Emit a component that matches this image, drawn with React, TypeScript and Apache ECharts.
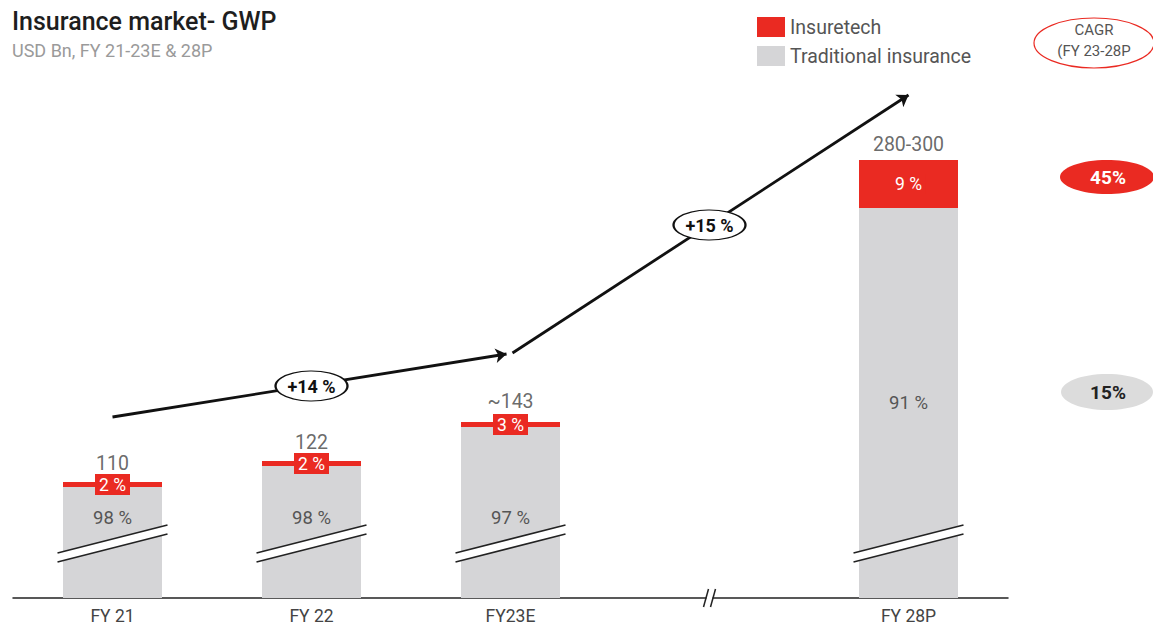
import React, { useEffect, useRef } from "react";
import * as echarts from "echarts";

const categories = ["FY 21", "FY 22", "FY23E", "", "FY 28P"];
// bar heights in the chart's drawn (broken-axis) units
const traditionalHeight = [111, 132, 171, null, 390];
const insuretechHeight = [5, 5, 5, null, 48];
const traditionalShare = ["98 %", "98 %", "97 %", "", "91 %"];
const insuretechShare = ["2 %", "2 %", "3 %", "", "9 %"];
const totalLabels = ["110", "122", "~143", "", "280-300"];
const totalLabelGap = [8, 8, 10, 0, 5];
const breakBars = [0, 1, 2, 4];
const breakLevel = 55;
const axisBreakIndex = 3;
const growthLabels = ["+14 %", "+15 %"];
const growthPoints = [[1.0, 212], [3.0, 373]];
const arrowPaths = [
  [[0, 181], [1.98, 244]],
  [[2.01, 245], [4.0, 503]],
];
const cagrTitle = ["CAGR", "(FY 23-28P"];
const cagrLabels = ["45%", "15%"];

const RED = "#ea2a22";
const GRAY = "#d5d5d7";
const FONT = "Roboto, 'Noto Sans', sans-serif";

export default function App() {
  const ref = useRef<HTMLDivElement>(null);
  useEffect(() => {
    if (!ref.current) return;
    const chart = echarts.init(ref.current, null, { renderer: "svg" });
    const tops = traditionalHeight.map((v, i) =>
      v == null ? null : v + (insuretechHeight[i] as number)
    );
    const option: any = {
      animation: false,
      textStyle: { fontFamily: FONT },
      title: {
        text: "Insurance market- GWP",
        subtext: "USD Bn, FY 21-23E & 28P",
        left: 7,
        top: 4,
        itemGap: 7,
        textStyle: { fontSize: 25, fontWeight: 500, color: "#1e1e1e", fontFamily: FONT },
        subtextStyle: { fontSize: 18, color: "#9a9a9a", fontFamily: FONT },
      },
      legend: {
        data: ["Insuretech", "Traditional insurance"],
        orient: "vertical",
        left: 752,
        top: 12,
        itemWidth: 28,
        itemHeight: 20,
        itemGap: 9,
        icon: "rect",
        textStyle: { fontSize: 19.5, color: "#555", fontFamily: FONT },
      },
      grid: { left: 13, right: 145, top: 58, bottom: 27 },
      xAxis: [
        {
          type: "category",
          data: categories,
          axisLine: { lineStyle: { color: "#222", width: 1.5 } },
          axisTick: { show: false },
          axisLabel: { fontSize: 17.5, lineHeight: 17, color: "#444", margin: 9, fontFamily: FONT },
        },
        { type: "value", min: -0.5, max: 4.5, show: false },
      ],
      yAxis: { type: "value", min: 0, max: 540, show: false },
      series: [
        {
          name: "Traditional insurance",
          type: "bar",
          stack: "total",
          barWidth: 99,
          itemStyle: { color: GRAY },
          data: traditionalHeight.map((v, i) => ({
            value: v == null ? "-" : v,
            label: {
              show: v != null,
              formatter: traditionalShare[i],
              position: i === 4 ? "inside" : "insideBottom",
              distance: i === 4 ? 5 : 71,
              fontSize: 18.5,
              color: "#555",
            },
          })),
        },
        {
          name: "Insuretech",
          type: "bar",
          stack: "total",
          barWidth: 99,
          itemStyle: { color: RED },
          data: insuretechHeight.map((v, i) => ({
            value: v == null ? "-" : v,
            label: {
              show: v != null,
              formatter: insuretechShare[i],
              position: "inside",
              fontSize: 17.5,
              color: "#fff",
              backgroundColor: RED,
              padding: [2, 4, 1, 4],
            },
          })),
        },
        {
          type: "scatter",
          symbolSize: 1,
          itemStyle: { color: "rgba(0,0,0,0)" },
          silent: true,
          z: 5,
          data: tops
            .map((t, i) => (t == null ? null : { value: [i, t], label: { show: true, position: "top", distance: totalLabelGap[i], formatter: totalLabels[i], fontSize: 19.5, color: "#444" } }))
            .filter((d) => d != null),
        },
        {
          type: "custom",
          z: 6,
          data: breakBars.map((i) => [i, breakLevel]),
          renderItem: (params: any, api: any) => {
            const p = api.coord([api.value(0), api.value(1)]);
            const cx = p[0];
            const cy = p[1];
            return {
              type: "group",
              children: [
                { type: "polygon", shape: { points: [[cx - 55, cy + 10], [cx + 55, cy - 18], [cx + 55, cy - 9], [cx - 55, cy + 19]] }, style: { fill: "#fff" } },
                { type: "line", shape: { x1: cx - 55, y1: cy + 10, x2: cx + 55, y2: cy - 18 }, style: { stroke: "#222", lineWidth: 1.5 } },
                { type: "line", shape: { x1: cx - 55, y1: cy + 19, x2: cx + 55, y2: cy - 9 }, style: { stroke: "#222", lineWidth: 1.5 } },
              ],
            };
          },
        },
        {
          type: "custom",
          z: 6,
          data: [[axisBreakIndex, 0]],
          renderItem: (params: any, api: any) => {
            const p = api.coord([api.value(0), api.value(1)]);
            const cx = p[0];
            const cy = p[1];
            return {
              type: "group",
              children: [
                { type: "rect", shape: { x: cx - 3, y: cy - 2, width: 6, height: 4 }, style: { fill: "#fff" } },
                { type: "line", shape: { x1: cx - 6, y1: cy + 9, x2: cx - 1, y2: cy - 9 }, style: { stroke: "#222", lineWidth: 1.5 } },
                { type: "line", shape: { x1: cx + 1, y1: cy + 9, x2: cx + 6, y2: cy - 9 }, style: { stroke: "#222", lineWidth: 1.5 } },
              ],
            };
          },
        },
        {
          type: "lines",
          coordinateSystem: "cartesian2d",
          xAxisIndex: 1,
          z: 2,
          symbol: ["none", "arrow"],
          symbolSize: 11,
          lineStyle: { color: "#111", width: 2.8, opacity: 1 },
          data: arrowPaths.map((c) => ({ coords: c })),
        },
        {
          type: "scatter",
          xAxisIndex: 1,
          z: 20,
          symbol: "circle",
          symbolSize: [72, 30],
          itemStyle: { color: "#ffffff", opacity: 1, borderColor: "#111", borderWidth: 1.5 },
          label: { show: true, position: "inside", fontSize: 18, fontWeight: "bold", color: "#111" },
          data: growthPoints.map((p, i) => ({ value: p, label: { formatter: growthLabels[i] } })),
        },
      ],
      graphic: [
        { type: "ellipse", shape: { cx: 1094, cy: 43, rx: 60, ry: 25 }, style: { fill: "#fff", stroke: RED, lineWidth: 1.2 } },
        { type: "text", x: 1094, y: 30, style: { text: cagrTitle[0], fill: "#555", fontSize: 15, fontFamily: FONT, align: "center", verticalAlign: "middle" } },
        { type: "text", x: 1094, y: 51, style: { text: cagrTitle[1], fill: "#555", fontSize: 15, fontFamily: FONT, align: "center", verticalAlign: "middle" } },
        { type: "ellipse", shape: { cx: 1107, cy: 177, rx: 47, ry: 17 }, style: { fill: RED } },
        { type: "text", x: 1108, y: 177, style: { text: cagrLabels[0], fill: "#fff", fontSize: 19, fontWeight: "bold", fontFamily: FONT, align: "center", verticalAlign: "middle" } },
        { type: "ellipse", shape: { cx: 1107, cy: 392, rx: 46, ry: 18 }, style: { fill: "#dcdcdc" } },
        { type: "text", x: 1108, y: 392, style: { text: cagrLabels[1], fill: "#222", fontSize: 19, fontWeight: "bold", fontFamily: FONT, align: "center", verticalAlign: "middle" } },
      ],
    };
    chart.setOption(option);
    return () => chart.dispose();
  }, []);
  return (
    <div
      ref={ref}
      style={{ position: "fixed", left: 0, top: 0, width: 1153, height: 625, background: "#fff" }}
    />
  );
}
